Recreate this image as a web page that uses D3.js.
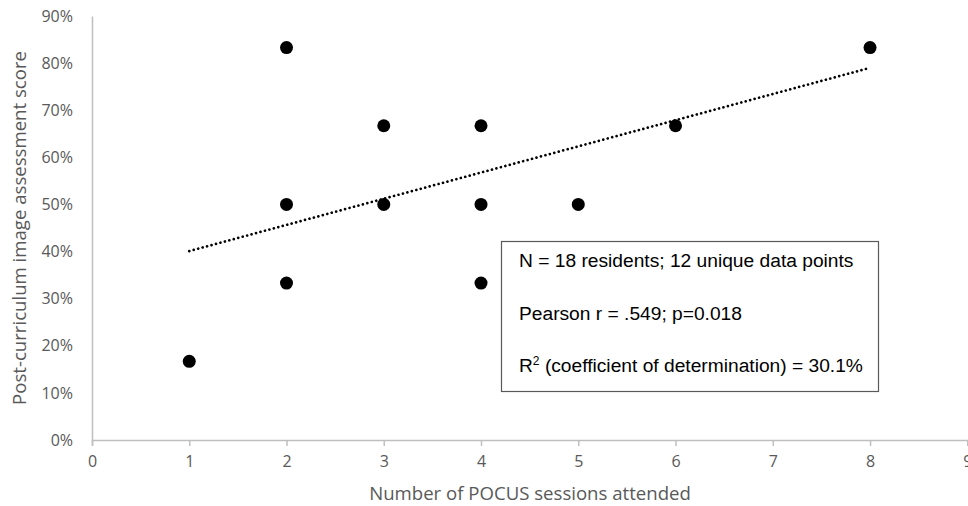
<!DOCTYPE html>
<html>
<head>
<meta charset="utf-8">
<script src="https://cdn.jsdelivr.net/npm/d3@7"></script>
<style>
  body { margin: 0; background: #fff; }
  .tick text { font-family: "Open Sans", sans-serif; font-size: 16px; fill: #595959; }
  .axis-title { font-family: "Open Sans", sans-serif; font-size: 18.6px; fill: #595959; }
  .stats { font-family: "Liberation Sans", Arial, sans-serif; font-size: 19.2px; fill: #000; }
</style>
</head>
<body>
<div id="chart"></div>
<script>
// sessions attended vs. score (unique points)
var sessions = [1, 2, 2, 2, 3, 3, 4, 4, 4, 5, 6, 8];
var scores = [0.167, 0.833, 0.5, 0.333, 0.667, 0.5, 0.667, 0.5, 0.333, 0.5, 0.667, 0.833];
// linear trend line
var trendX = [1, 8];
var trendY = [0.401, 0.79];
var xTicks = [0, 1, 2, 3, 4, 5, 6, 7, 8, 9];
var yTicks = [0, 0.1, 0.2, 0.3, 0.4, 0.5, 0.6, 0.7, 0.8, 0.9];
var statLines = ["N = 18 residents; 12 unique data points", "Pearson r = .549; p=0.018", "R2 (coefficient of determination) = 30.1%"];

var width = 968, height = 506;

var svg = d3.select("#chart").append("svg")
    .attr("width", width)
    .attr("height", height);

var x = d3.scaleLinear().domain([0, 9]).range([92, 967.3]);
var y = d3.scaleLinear().domain([0, 0.9]).range([440, 16]);

// x axis
var xAxis = svg.append("g")
    .attr("transform", "translate(0,440)")
    .call(d3.axisBottom(x).tickValues(xTicks).tickSize(6).tickPadding(10).tickFormat(d3.format("d")));
xAxis.select(".domain").attr("stroke", "#bfbfbf").attr("stroke-width", 1.5);
xAxis.selectAll(".tick line").attr("stroke", "#bfbfbf").attr("stroke-width", 1.5);

// y axis
var yAxis = svg.append("g")
    .attr("transform", "translate(92,0)")
    .call(d3.axisLeft(y).tickValues(yTicks).tickSize(0).tickPadding(19).tickFormat(d3.format(".0%")));
yAxis.select(".domain").attr("stroke", "#bfbfbf").attr("stroke-width", 1.5);

svg.append("text")
    .attr("class", "axis-title")
    .attr("text-anchor", "middle")
    .attr("x", 530)
    .attr("y", 500)
    .text("Number of POCUS sessions attended");

svg.append("text")
    .attr("class", "axis-title")
    .attr("text-anchor", "middle")
    .attr("transform", "translate(26,228)rotate(-90)")
    .text("Post-curriculum image assessment score");

// trend line
var line = d3.line()
    .x(function (d) { return x(d[0]); })
    .y(function (d) { return y(d[1]); });
svg.append("path")
    .datum(d3.zip(trendX, trendY))
    .attr("d", line)
    .attr("fill", "none")
    .attr("stroke", "#000")
    .attr("stroke-width", 2.7)
    .attr("stroke-dasharray", "0.01 4.6")
    .attr("stroke-linecap", "round");

// points
svg.append("g")
    .selectAll("circle")
    .data(d3.zip(sessions, scores))
    .enter().append("circle")
    .attr("cx", function (d) { return x(d[0]); })
    .attr("cy", function (d) { return y(d[1]); })
    .attr("r", 6.5)
    .attr("fill", "#000");

// stats box
var box = svg.append("g");
box.append("rect")
    .attr("x", 501.5)
    .attr("y", 241.5)
    .attr("width", 377)
    .attr("height", 150)
    .attr("fill", "#fff")
    .attr("stroke", "#595959")
    .attr("stroke-width", 1.2);

box.selectAll("text")
    .data(statLines)
    .enter().append("text")
    .attr("class", "stats")
    .attr("x", 519)
    .attr("y", function (d, i) { return 267 + i * 52.5; })
    .each(function (d) {
        var t = d3.select(this);
        if (d.indexOf("R2") === 0) {
            t.append("tspan").text("R");
            t.append("tspan").attr("font-size", "12px").attr("dy", -7).text("2");
            t.append("tspan").attr("dy", 7).text(d.slice(2));
        } else {
            t.text(d);
        }
    });
</script>
</body>
</html>
